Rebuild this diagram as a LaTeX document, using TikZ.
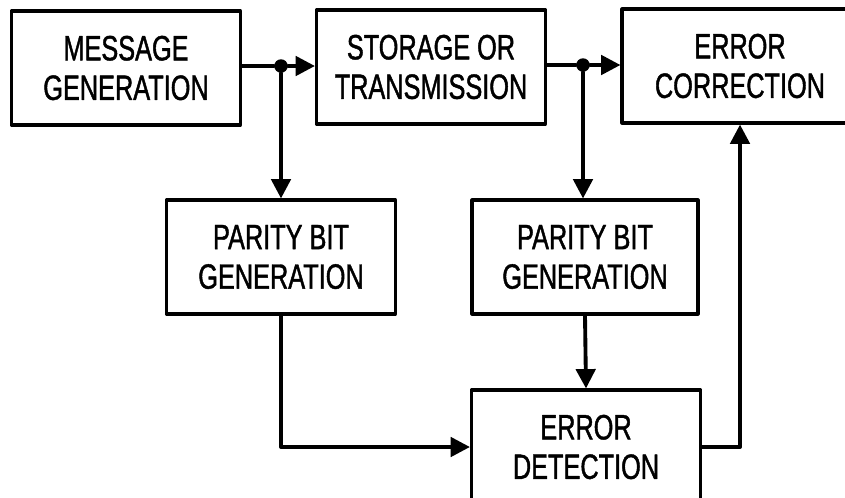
\documentclass[tikz,border=0pt]{standalone}
\usepackage{fontspec}
\setmainfont{Liberation Sans}[FakeStretch=0.72, FakeBold=1.2]
\usetikzlibrary{arrows.meta,positioning,calc}
\tikzset{every picture/.style={line cap=round, line join=round}}
\tikzset{box/.style={draw, rectangle, minimum width=4.58cm, minimum height=2.28cm,
  align=center, line width=1.8pt, font=\fontsize{20}{22.5}\selectfont}}
\tikzset{arrow/.style={-{Triangle[length=11pt,width=11pt]}, line width=2.2pt}}
\tikzset{line/.style={draw, line width=2.2pt}}
\tikzset{dot/.style={circle, fill, inner sep=0pt, minimum size=0.27cm}}

\begin{document}
\begin{tikzpicture}[x=0.02cm,y=-0.02cm]
  \useasboundingbox (0,0) rectangle (845,497);
  \clip (0,0) rectangle (845,497);

  % top row
  \node[box] (msg) at (126,68) {MESSAGE\\GENERATION};
  \node[box] (store) at (431,67) {STORAGE OR\\TRANSMISSION};
  \node[box, minimum width=4.72cm] (corr) at (740,66) {ERROR\\CORRECTION};

  % parity generators
  \node[box] (par1) at (281,257) {PARITY BIT\\GENERATION};
  \node[box, minimum width=4.52cm] (par2) at (585,257) {PARITY BIT\\GENERATION};

  % detection
  \node[box] (det) at (586,447) {ERROR\\DETECTION};

  % branch points
  \node[dot] (j1) at (281,66) {};
  \node[dot] (j2) at (583,65) {};

  \draw[line] (msg.east |- j1) -- (j1);
  \draw[arrow] (j1) -- (store.west |- j1);
  \draw[arrow] (j1) -- (par1.north);
  \draw[line] (store.east |- j2) -- (j2);
  \draw[arrow] (j2) -- (corr.west |- j2);
  \draw[arrow] (j2) -- (par2.north -| j2);

  \draw[arrow] (par1.south) |- (det.west);
  \draw[arrow] (par2.south) -- (det.north);
  \draw[arrow] (det.east) -| (corr.south);
\end{tikzpicture}
\end{document}
